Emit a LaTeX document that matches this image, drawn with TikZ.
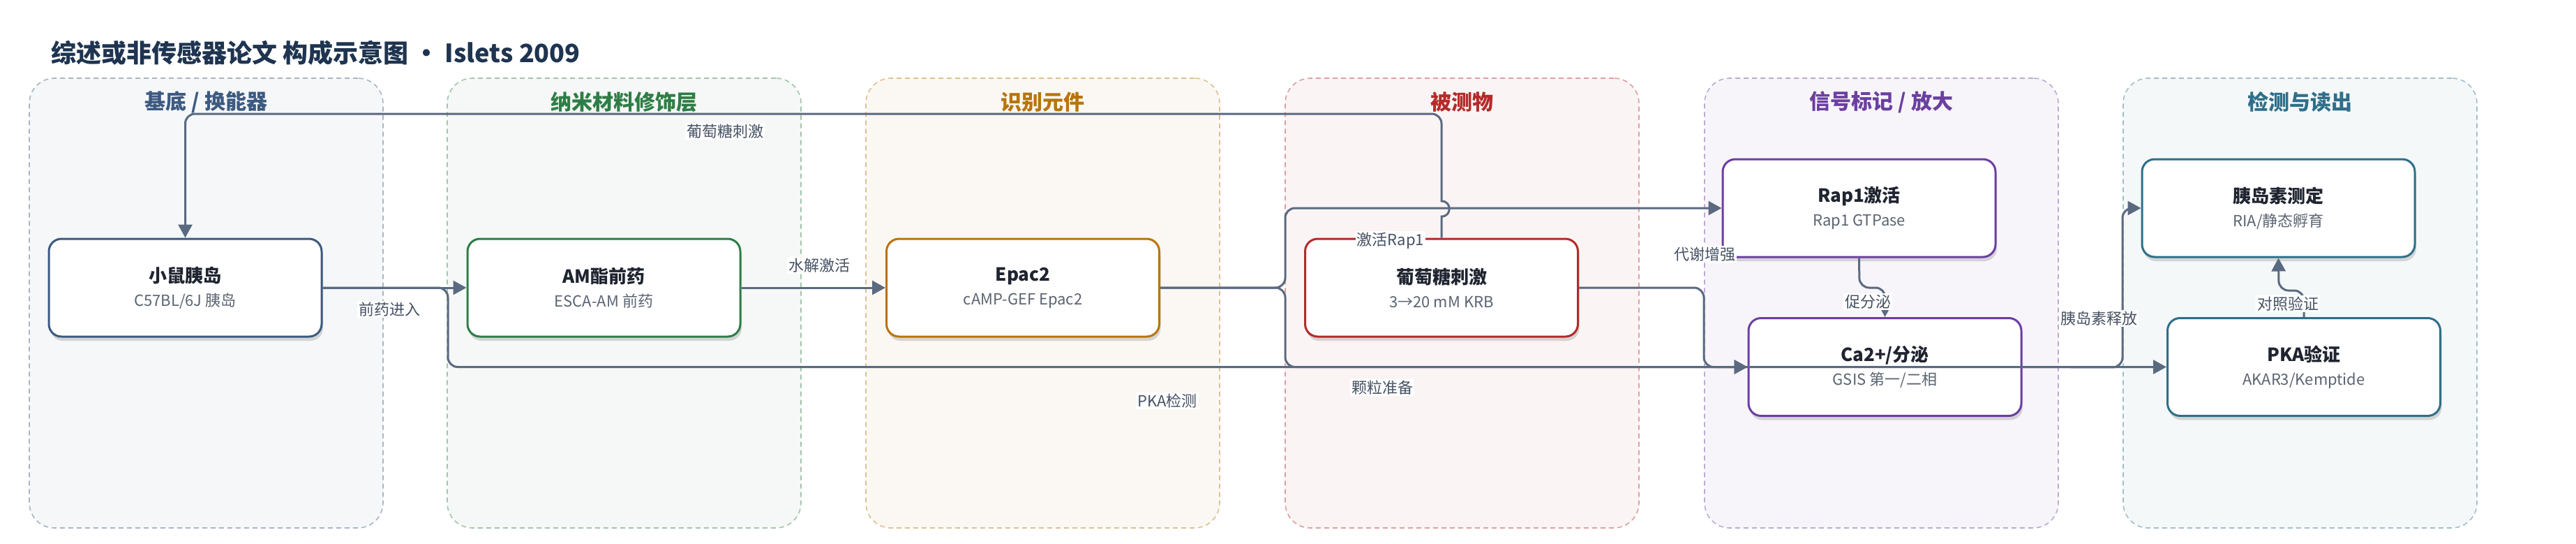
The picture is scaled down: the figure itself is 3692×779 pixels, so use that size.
\documentclass[tikz,border=0pt]{standalone}
\usepackage{fontspec}
\setmainfont{Noto Sans CJK SC}
\usepackage{xcolor}
\usepackage{tikz}
\usetikzlibrary{shapes,arrows.meta,positioning,shadows,calc}
\definecolor{basecolor}{HTML}{3D5A80}
\definecolor{nanocolor}{HTML}{2E7D46}
\definecolor{recogcolor}{HTML}{B8740A}
\definecolor{analytecolor}{HTML}{B52A2A}
\definecolor{signalcolor}{HTML}{6B3FA0}
\definecolor{readcolor}{HTML}{2F6F8A}
\definecolor{linkcolor}{HTML}{5A6A80}
\definecolor{titlecolor}{HTML}{1E3450}
\definecolor{textcolor}{HTML}{1F2430}
\definecolor{subcolor}{HTML}{5B6472}
\definecolor{tagcolor}{HTML}{465163}

\begin{document}
\begin{tikzpicture}[x=1pt, y=-1pt,
    panel/.style={rectangle, draw=#1!45, fill=#1!5, dash pattern=on 7pt off 5pt, line width=1.6pt, rounded corners=36pt, minimum width=507pt, minimum height=644pt, inner sep=0pt},
    lane/.style={font=\fontsize{30}{34}\selectfont\bfseries, text=#1},
    box/.style={rectangle, draw=#1, line width=3pt, fill=white, rounded corners=18pt, minimum width=391pt, minimum height=140pt, align=center, font=\fontsize{22}{34}\selectfont, text=subcolor, drop shadow={opacity=0.14, shadow xshift=2pt, shadow yshift=-6pt, fill=black}},
    arrow/.style={-{Triangle[length=19pt,width=20pt]}, line width=3pt, draw=linkcolor, rounded corners=14pt},
    tag/.style={fill=white, inner sep=2pt, font=\fontsize{22}{26}\selectfont, text=tagcolor}
]
    \useasboundingbox (0,0) rectangle (3692,779);

    % Title
    \node[anchor=west, inner sep=0pt, text=titlecolor, font=\fontsize{36}{40}\selectfont\bfseries] (title) at (73,76) {综述或非传感器论文 构成示意图 • Islets 2009};

    % Panels
    \node[panel=basecolor] (pBase) at (295.5,434) {};
    \node[panel=nanocolor] (pNano) at (894.5,434) {};
    \node[panel=recogcolor] (pRecog) at (1494.5,434) {};
    \node[panel=analytecolor] (pAnalyte) at (2095.5,434) {};
    \node[panel=signalcolor] (pSignal) at (2696.5,434) {};
    \node[panel=readcolor] (pRead) at (3296.5,434) {};

    \node[lane=basecolor] (tBase) at (295.5,146) {基底 / 换能器};
    \node[lane=nanocolor] (tNano) at (894.5,146) {纳米材料修饰层};
    \node[lane=recogcolor] (tRecog) at (1494.5,146) {识别元件};
    \node[lane=analytecolor] (tAnalyte) at (2095.5,146) {被测物};
    \node[lane=signalcolor] (tSignal) at (2696.5,146) {信号标记 / 放大};
    \node[lane=readcolor] (tRead) at (3296.5,146) {检测与读出};

    % Nodes
    \node[box=basecolor] (islet) at (265.5,412) {{\fontsize{26}{34}\selectfont\bfseries\color{textcolor}小鼠胰岛}\\C57BL/6J 胰岛};
    \node[box=nanocolor] (prodrug) at (865.5,412) {{\fontsize{26}{34}\selectfont\bfseries\color{textcolor}AM酯前药}\\ESCA-AM 前药};
    \node[box=recogcolor] (epac) at (1466,412) {{\fontsize{26}{34}\selectfont\bfseries\color{textcolor}Epac2}\\cAMP-GEF Epac2};
    \node[box=analytecolor] (glucose) at (2066,412) {{\fontsize{26}{34}\selectfont\bfseries\color{textcolor}葡萄糖刺激}\\3→20 mM KRB};
    \node[box=signalcolor] (rap) at (2664.5,298) {{\fontsize{26}{34}\selectfont\bfseries\color{textcolor}Rap1激活}\\Rap1 GTPase};
    \node[box=signalcolor] (secr) at (2701.5,525.5) {{\fontsize{26}{34}\selectfont\bfseries\color{textcolor}Ca2+/分泌}\\GSIS 第一/二相};
    \node[box=readcolor] (insulin) at (3265.5,298) {{\fontsize{26}{34}\selectfont\bfseries\color{textcolor}胰岛素测定}\\RIA/静态孵育};
    \node[box=readcolor] (pka) at (3302,525.5) {{\fontsize{26}{34}\selectfont\bfseries\color{textcolor}PKA验证}\\AKAR3/Kemptide};

    % Arrows
    \draw[arrow, sharp corners] (glucose.north) -- (2066,310) .. controls (2081,310) and (2081,288) .. (2066,288) -- (2066,286) [rounded corners=14pt] -- (2066,163) -| (islet.north);
    \draw[arrow] (islet.east) -- (prodrug.west);
    \draw[arrow] (islet.east) -- (642,412) |- (pka.west);
    \draw[arrow] (prodrug.east) -- (epac.west);
    \draw[arrow] (epac.east) -- (1842,412) |- (rap.west);
    \draw[arrow] (epac.east) -- (1842,412) |- (secr.west);
    \draw[arrow] (glucose.east) -- (2442,412) |- (secr.west);
    \draw[arrow] (rap.south) -- (2665,412) -- (2702,412) -- (secr.north);
    \draw[arrow] (secr.east) -- (3042,526) |- (insulin.west);
    \draw[arrow] (pka.north) -- (3302,416) -- (3266,416) -- (insulin.south);

    % Labels
    \node[tag] (lbGlu) at (1039,188) {葡萄糖刺激};
    \node[tag] (lbEntry) at (558,443) {前药进入};
    \node[tag] (lbHydro) at (1174,380) {水解激活};
    \node[tag] (lbRap) at (1993,345) {激活Rap1};
    \node[tag] (lbGran) at (1981,555) {颗粒准备};
    \node[tag] (lbPka) at (1673,574) {PKA检测};
    \node[tag] (lbMeta) at (2443,364) {代谢增强};
    \node[tag] (lbSecr) at (2677,432) {促分泌};
    \node[tag] (lbRel) at (3008,456) {胰岛素释放};
    \node[tag] (lbCtrl) at (3279,435) {对照验证};
\end{tikzpicture}
\end{document}
